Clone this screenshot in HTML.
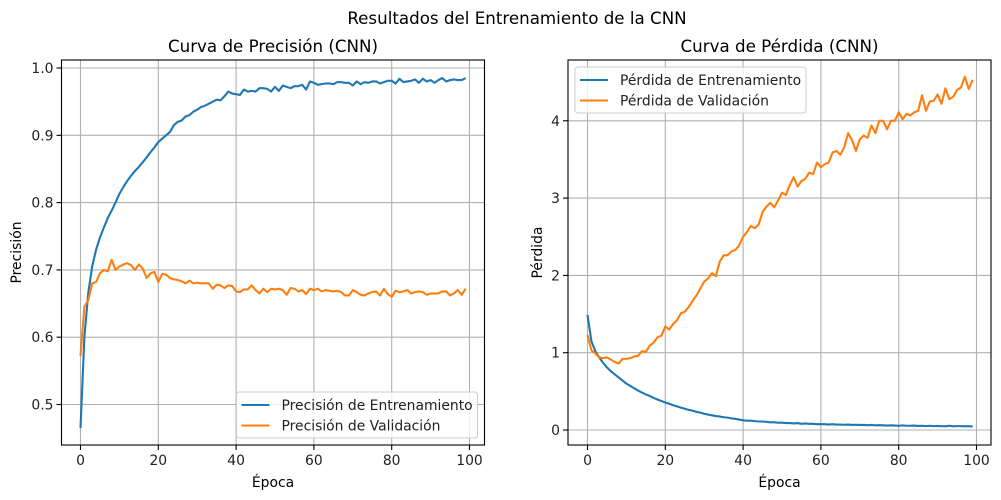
<!DOCTYPE html>
<html><head><meta charset="utf-8"><style>
body{margin:0;background:#fff}
svg{font-family:"DejaVu Sans","Liberation Sans",sans-serif;display:block}
</style></head><body>
<svg id="fig" width="1001" height="500" viewBox="0 0 1001 500">
<rect width="1001" height="500" fill="#fff"/>
<text x="517" y="24" text-anchor="middle" font-size="16.7" fill="#000">Resultados del Entrenamiento de la CNN</text>
<g id="left"></g>
<g id="right"></g>
</svg>
<script>
const epochs = Array.from({length:100},(_, i)=>i);
const trainAcc = [0.465,0.60,0.666,0.705,0.73,0.748,0.763,0.777,0.788,0.80,
0.813,0.823,0.832,0.84,0.847,0.853,0.86,0.867,0.875,0.882,
0.89,0.895,0.90,0.905,0.915,0.92,0.922,0.928,0.93,0.935,
0.938,0.942,0.944,0.947,0.95,0.953,0.952,0.958,0.965,0.962,
0.961,0.960,0.968,0.965,0.966,0.965,0.970,0.970,0.969,0.965,
0.972,0.966,0.974,0.972,0.970,0.973,0.973,0.975,0.968,0.980,
0.978,0.975,0.976,0.977,0.977,0.976,0.979,0.979,0.978,0.978,
0.974,0.980,0.976,0.979,0.978,0.980,0.980,0.977,0.979,0.981,
0.981,0.977,0.984,0.979,0.980,0.981,0.983,0.978,0.984,0.980,
0.982,0.978,0.982,0.985,0.980,0.982,0.983,0.982,0.982,0.985];
const valAcc = [0.572,0.645,0.655,0.68,0.682,0.695,0.70,0.698,0.715,0.70,
0.705,0.708,0.710,0.707,0.700,0.708,0.702,0.688,0.695,0.697,
0.682,0.694,0.693,0.688,0.686,0.685,0.683,0.680,0.684,0.680,
0.681,0.680,0.680,0.680,0.672,0.678,0.677,0.673,0.677,0.676,
0.668,0.667,0.671,0.671,0.677,0.670,0.665,0.672,0.667,0.672,
0.671,0.672,0.670,0.663,0.673,0.672,0.668,0.670,0.664,0.672,
0.670,0.672,0.668,0.670,0.669,0.668,0.669,0.667,0.662,0.662,
0.670,0.667,0.663,0.662,0.665,0.667,0.668,0.662,0.672,0.664,
0.660,0.669,0.667,0.668,0.670,0.665,0.667,0.668,0.667,0.663,
0.665,0.665,0.665,0.668,0.668,0.662,0.665,0.670,0.663,0.672];
const trainLoss = [1.49,1.15,1.02,0.94,0.87,0.81,0.76,0.72,0.68,0.64,
0.60,0.57,0.54,0.51,0.485,0.46,0.44,0.415,0.395,0.375,
0.355,0.34,0.32,0.305,0.29,0.275,0.26,0.25,0.235,0.225,
0.21,0.20,0.19,0.18,0.175,0.165,0.16,0.15,0.145,0.135,
0.125,0.12,0.12,0.115,0.11,0.11,0.105,0.10,0.10,0.095,
0.095,0.09,0.09,0.085,0.09,0.08,0.085,0.08,0.08,0.075,
0.075,0.075,0.07,0.075,0.07,0.07,0.068,0.07,0.065,0.068,
0.065,0.065,0.062,0.065,0.06,0.062,0.06,0.058,0.06,0.058,
0.055,0.06,0.055,0.055,0.058,0.052,0.055,0.05,0.055,0.05,
0.052,0.05,0.048,0.055,0.048,0.05,0.05,0.048,0.05,0.045];
const valLoss = [1.23,1.03,0.99,0.94,0.93,0.94,0.91,0.88,0.86,0.92,
0.92,0.93,0.95,0.96,1.02,1.01,1.09,1.13,1.20,1.22,
1.34,1.30,1.37,1.42,1.51,1.53,1.59,1.67,1.74,1.83,
1.92,1.96,2.03,1.99,2.18,2.26,2.26,2.31,2.33,2.39,
2.50,2.56,2.64,2.61,2.66,2.82,2.89,2.94,2.88,2.97,
3.07,3.04,3.17,3.27,3.15,3.22,3.25,3.33,3.31,3.46,
3.40,3.44,3.46,3.59,3.61,3.56,3.66,3.84,3.75,3.61,
3.76,3.81,3.78,3.94,3.84,4.00,4.00,3.89,4.00,4.00,
4.11,4.02,4.09,4.07,4.11,4.13,4.33,4.13,4.25,4.26,
4.34,4.22,4.42,4.28,4.31,4.40,4.43,4.57,4.41,4.53];
const xTicks = [0,20,40,60,80,100];
const accTicks = [0.5,0.6,0.7,0.8,0.9,1.0];
const lossTicks = [0,1,2,3,4];

const NS='http://www.w3.org/2000/svg';
function mk(parent,tag,attrs,txt){const e=document.createElementNS(NS,tag);for(const k in attrs)e.setAttribute(k,attrs[k]);if(txt!==undefined)e.textContent=txt;parent.appendChild(e);return e;}

function chart(g,cfg){
  const L=cfg.left,R=cfg.left+423,T=60,B=445;
  const xs=v=>cfg.x0+(v-0)*(389/100);
  const ys=v=>cfg.yBase+(v-cfg.vBase)*cfg.yk;
  const grid=mk(g,'g',{});
  
  
  xTicks.forEach(t=>{const x=xs(t);
    const l=mk(grid,'line',{x1:x,x2:x,y1:T,y2:B,stroke:'#b0b0b0','stroke-width':1.1});
    
    const tk=mk(g,'line',{x1:x,x2:x,y1:B,y2:B+5,stroke:'#000','stroke-width':1.1});
    
    const tx=mk(g,'text',{x:x,y:B+20,'text-anchor':'middle','font-size':13.9,fill:'#222'},String(t));
    
  });
  cfg.yTicks.forEach(t=>{const y=ys(t);
    const l=mk(grid,'line',{x1:L,x2:R,y1:y,y2:y,stroke:'#b0b0b0','stroke-width':1.1});
    
    const tk=mk(g,'line',{x1:L-5,x2:L,y1:y,y2:y,stroke:'#000','stroke-width':1.1});
    
    const tx=mk(g,'text',{x:L-8,y:y+5,'text-anchor':'end','font-size':13.9,fill:'#222'},cfg.fmt(t));
    
  });
  cfg.series.forEach(s=>{
    const d=s.data.map((v,i)=>(i?'L':'M')+xs(epochs[i]).toFixed(2)+' '+ys(v).toFixed(2)).join(' ');
    const p=mk(g,'path',{d:d,fill:'none',stroke:s.color,'stroke-width':2.1,'stroke-linejoin':'round'});
    
  });
  const fr=mk(g,'rect',{x:L,y:T,width:R-L,height:B-T,fill:'none',stroke:'#000','stroke-width':1.1});
  
  const tt=mk(g,'text',{x:(L+R)/2,y:52,'text-anchor':'middle','font-size':16.7,fill:'#000'},cfg.title);
  
  const xl=mk(g,'text',{x:(L+R)/2,y:487,'text-anchor':'middle','font-size':13.9,fill:'#000'},'Época');
  
  const yl=mk(g,'text',{x:cfg.ylx,y:(T+B)/2,'text-anchor':'middle','font-size':13.9,fill:'#000',transform:`rotate(-90 ${cfg.ylx} ${(T+B)/2})`},cfg.ylabel);
  
  const lg=mk(g,'g',{});
  
  const lb=cfg.legend;
  mk(lg,'rect',{x:lb.x,y:lb.y,width:lb.w,height:46,rx:3,fill:'#fff','fill-opacity':0.8,stroke:'#ccc','stroke-width':1});
  cfg.series.forEach((s,i)=>{const y=lb.y+13+i*20.5;
    const ln=mk(lg,'line',{x1:lb.x+5,x2:lb.x+33,y1:y,y2:y,stroke:s.color,'stroke-width':2.1});
    
    const t=mk(lg,'text',{x:lb.x+45,y:y+5,'font-size':13.9,fill:'#222'},s.label);
    
  });
}
chart(document.getElementById('left'),{left:61.5,x0:80.5,yBase:404.5,vBase:0.5,yk:-673,yTicks:accTicks,fmt:t=>t.toFixed(1),
  title:'Curva de Precisión (CNN)',ylabel:'Precisión',ylx:21,legend:{x:236.5,y:392,w:241},
  series:[{data:trainAcc,color:'#1f77b4',name:'train-accuracy-line',label:'Precisión de Entrenamiento'},
          {data:valAcc,color:'#ff7f0e',name:'val-accuracy-line',label:'Precisión de Validación'}]});
chart(document.getElementById('right'),{left:568,x0:587.5,yBase:430,vBase:0,yk:-77.3,yTicks:lossTicks,fmt:t=>String(t),
  title:'Curva de Pérdida (CNN)',ylabel:'Pérdida',ylx:542,legend:{x:575,y:67,w:231},
  series:[{data:trainLoss,color:'#1f77b4',name:'train-loss-line',label:'Pérdida de Entrenamiento'},
          {data:valLoss,color:'#ff7f0e',name:'val-loss-line',label:'Pérdida de Validación'}]});
</script>
</body></html>
